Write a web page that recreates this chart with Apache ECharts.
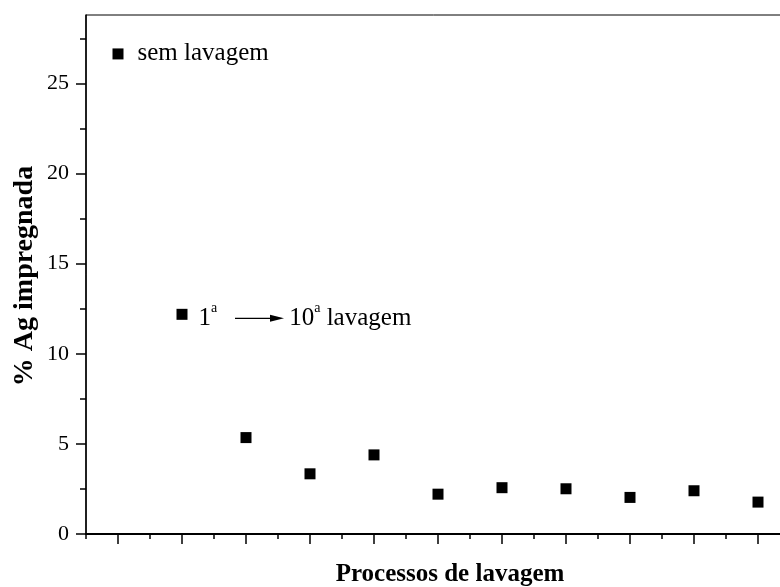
<!DOCTYPE html>
<html><head><meta charset="utf-8">
<script src="https://cdn.jsdelivr.net/npm/echarts@6/dist/echarts.min.js"></script>
<style>html,body{margin:0;padding:0;background:#fff}#c{width:780px;height:587px}</style>
</head><body><div id="c"></div>
<script>
const washIndex = [0, 1, 2, 3, 4, 5, 6, 7, 8, 9, 10];
const agPercent = [26.64, 12.19, 5.35, 3.34, 4.39, 2.21, 2.57, 2.51, 2.03, 2.40, 1.77];
const yMajorTicks = [0, 5, 10, 15, 20, 25];
const yMinorTicks = [2.5, 7.5, 12.5, 17.5, 22.5, 27.5];
const xMajorTicks = [0, 1, 2, 3, 4, 5, 6, 7, 8, 9, 10];
const xMinorTicks = [-0.5, 0.5, 1.5, 2.5, 3.5, 4.5, 5.5, 6.5, 7.5, 8.5, 9.5, 10.5];
const yTitle = '% Ag impregnada';
const xTitle = 'Processos de lavagem';
const noWashLabel = 'sem lavagem';
const washRangeLabel = '{n|1}{s|a}{g|}{n|10}{s|a}{n| lavagem}';

const FONT = '"Liberation Serif", "Times New Roman", serif';
const chart = echarts.init(document.getElementById('c'), null, {renderer: 'canvas'});

const data = washIndex.map((x, i) => {
  const item = {value: [x, agPercent[i]]};
  if (i === 0) {
    item.label = {show: true, position: 'right', distance: 14, formatter: noWashLabel,
      fontFamily: FONT, fontSize: 25, color: '#000'};
  } else if (i === 1) {
    item.label = {show: true, position: 'right', distance: 11, offset: [0, 2], formatter: washRangeLabel,
      rich: {
        n: {fontFamily: FONT, fontSize: 25, color: '#000', lineHeight: 30, verticalAlign: 'bottom'},
        s: {fontFamily: FONT, fontSize: 14, color: '#000', lineHeight: 14, verticalAlign: 'top'},
        g: {width: 72, lineHeight: 30}
      }};
  }
  return item;
});

const hiddenAxisParts = {
  axisLine: {show: false, onZero: false}, splitLine: {show: false}, axisLabel: {show: false}
};

chart.setOption({
  animation: false,
  backgroundColor: '#fff',
  grid: {left: 86, right: -10, top: 15, bottom: 53, show: true, borderColor: '#000', borderWidth: 1,
    backgroundColor: 'transparent', outerBoundsMode: 'none', containLabel: false},
  xAxis: [{
    type: 'value', min: -0.5, max: 10.5, position: 'bottom',
    axisLine: {show: true, onZero: false, lineStyle: {color: '#000', width: 2}},
    axisTick: {show: true, inside: false, length: 10, customValues: xMajorTicks, lineStyle: {color: '#000', width: 1.5}},
    axisLabel: {show: false}, splitLine: {show: false}
  }, Object.assign({
    type: 'value', min: -0.5, max: 10.5, position: 'bottom',
    axisTick: {show: true, inside: false, length: 5, customValues: xMinorTicks, lineStyle: {color: '#000', width: 1.5}}
  }, hiddenAxisParts)],
  yAxis: [{
    type: 'value', min: 0, max: 28.8, position: 'left',
    axisLine: {show: true, onZero: false, lineStyle: {color: '#000', width: 1.5}},
    axisTick: {show: true, inside: false, length: 10, customValues: yMajorTicks, lineStyle: {color: '#000', width: 1.5}},
    axisLabel: {show: true, margin: 17, customValues: yMajorTicks, fontFamily: FONT, fontSize: 22, color: '#000'},
    splitLine: {show: false}
  }, Object.assign({
    type: 'value', min: 0, max: 28.8, position: 'left',
    axisTick: {show: true, inside: false, length: 6, customValues: yMinorTicks, lineStyle: {color: '#000', width: 1.5}}
  }, hiddenAxisParts)],
  series: [{
    type: 'scatter', xAxisIndex: 0, yAxisIndex: 0,
    symbol: 'rect', symbolSize: 11,
    itemStyle: {color: '#000', opacity: 1},
    data: data
  }]
});

const p1 = chart.convertToPixel({gridIndex: 0}, [washIndex[1], agPercent[1]]);
const ay = p1[1] + 4;
const ax0 = p1[0] + 53, ax1 = p1[0] + 102;
chart.setOption({
  graphic: [
    {type: 'line', shape: {x1: ax0, y1: ay, x2: ax1 - 12, y2: ay}, style: {stroke: '#000', lineWidth: 1.2}},
    {type: 'polygon', shape: {points: [[ax1 - 14, ay - 3.5], [ax1, ay], [ax1 - 14, ay + 3.5]]}, style: {fill: '#000'}},
    {type: 'text', x: 450, y: 575, style: {text: xTitle, font: 'bold 25px ' + FONT, fill: '#000',
      textAlign: 'center', textVerticalAlign: 'middle'}},
    {type: 'text', x: 25, y: 276, rotation: Math.PI / 2, style: {text: yTitle, font: 'bold 28px ' + FONT, fill: '#000',
      textAlign: 'center', textVerticalAlign: 'middle'}}
  ]
});
</script></body></html>
